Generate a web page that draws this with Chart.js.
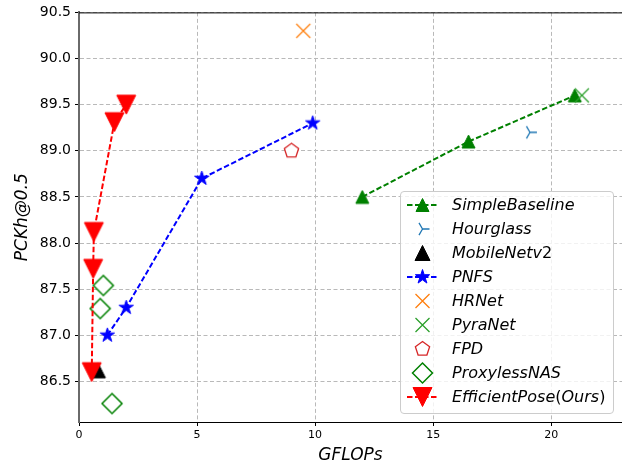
<!DOCTYPE html>
<html>
<head>
<meta charset="utf-8">
<script src="https://cdn.jsdelivr.net/npm/chart.js@4.4.1/dist/chart.umd.min.js"></script>
<style>
html,body{margin:0;padding:0;background:#fff;}
#wrap{position:relative;width:622px;height:464px;overflow:hidden;}
#legend{position:absolute;left:400px;top:191px;width:214px;height:223px;box-sizing:border-box;border:1px solid #cccccc;border-radius:4px;background:rgba(255,255,255,0.8);font-family:"DejaVu Sans",sans-serif;font-size:16px;color:#000;}
.row{position:absolute;left:0;height:24px;width:210px;}
.row canvas{position:absolute;left:3px;top:0;}
.row .lbl{position:absolute;left:51px;top:0;line-height:24px;font-style:italic;white-space:nowrap;}
.row .lbl span{font-style:normal;}
</style>
</head>
<body>
<div id="wrap">
<canvas id="c" width="622" height="464"></canvas>
<div id="legend"></div>
</div>
<script>
// ---- data ----
const xTicks = [0, 5, 10, 15, 20];
const yTicks = [86.5, 87.0, 87.5, 88.0, 88.5, 89.0, 89.5, 90.0, 90.5];

const seriesNames = ["SimpleBaseline", "Hourglass", "MobileNetv2", "PNFS", "HRNet", "PyraNet", "FPD", "ProxylessNAS", "EfficientPose(Ours)"];

const simpleBaselineX = [12.0, 16.5, 21.0];
const simpleBaselineY = [88.5, 89.1, 89.6];
const hourglassX = [19.1];
const hourglassY = [89.2];
const mobileNetX = [0.8];
const mobileNetY = [86.62];
const pnfsX = [1.2, 2.0, 5.2, 9.9];
const pnfsY = [87.0, 87.3, 88.7, 89.3];
const hrnetX = [9.5];
const hrnetY = [90.3];
const pyraNetX = [21.3];
const pyraNetY = [89.6];
const fpdX = [9.0];
const fpdY = [89.0];
const proxylessX = [1.03, 0.9, 1.4];
const proxylessY = [87.54, 87.29, 86.26];
const efficientPoseX = [0.54, 0.6, 0.63, 1.5, 2.0];
const efficientPoseY = [86.6, 87.72, 88.12, 89.31, 89.5];

// ---- marker styles ----
const markers = [
  {shape:'tri_up', size:13, fill:'#008000', stroke:'#008000', lw:1, color:'#008000', line:true},
  {shape:'tri_right', size:14, fill:null, stroke:'#1f77b4', lw:1.3, color:'#1f77b4', line:false},
  {shape:'tri_up', size:15, fill:'#000000', stroke:'#000000', lw:1, color:'#000000', line:false},
  {shape:'star', size:15, fill:'#0000ff', stroke:'#0000ff', lw:1, color:'#0000ff', line:true},
  {shape:'x', size:14, fill:null, stroke:'#ff7f0e', lw:1.3, color:'#ff7f0e', line:false},
  {shape:'x', size:14, fill:null, stroke:'#2ca02c', lw:1.3, color:'#2ca02c', line:false},
  {shape:'pentagon', size:15, fill:'#ffffff', stroke:'#d62728', lw:1.3, color:'#d62728', line:false},
  {shape:'diamond', size:20, fill:'#ffffff', stroke:'#008000', lw:1.5, color:'#008000', line:false},
  {shape:'tri_down', size:19, fill:'#ff0000', stroke:'#ff0000', lw:1, color:'#ff0000', line:true}
];
const DASH = [5.5, 2.5];

function drawMarker(ctx, m, x, y) {
  const s = m.size / 2;
  ctx.save();
  ctx.lineJoin = 'miter';
  ctx.setLineDash([]);
  ctx.beginPath();
  switch (m.shape) {
    case 'tri_up':
      ctx.moveTo(x, y - s); ctx.lineTo(x + s, y + s); ctx.lineTo(x - s, y + s); ctx.closePath(); break;
    case 'tri_down':
      ctx.moveTo(x, y + s); ctx.lineTo(x + s, y - s); ctx.lineTo(x - s, y - s); ctx.closePath(); break;
    case 'star':
      for (let i = 0; i < 10; i++) {
        const r = (i % 2 === 0) ? s : s * 0.381966;
        const a = -Math.PI / 2 + i * Math.PI / 5;
        const px = x + r * Math.cos(a), py = y + r * Math.sin(a);
        if (i === 0) ctx.moveTo(px, py); else ctx.lineTo(px, py);
      }
      ctx.closePath(); break;
    case 'pentagon':
      for (let i = 0; i < 5; i++) {
        const a = -Math.PI / 2 + i * 2 * Math.PI / 5;
        const px = x + s * Math.cos(a), py = y + s * Math.sin(a);
        if (i === 0) ctx.moveTo(px, py); else ctx.lineTo(px, py);
      }
      ctx.closePath(); break;
    case 'diamond':
      ctx.moveTo(x, y - s); ctx.lineTo(x + s, y); ctx.lineTo(x, y + s); ctx.lineTo(x - s, y); ctx.closePath(); break;
    case 'x':
      ctx.moveTo(x - s, y - s); ctx.lineTo(x + s, y + s);
      ctx.moveTo(x - s, y + s); ctx.lineTo(x + s, y - s); break;
    case 'tri_right':
      ctx.moveTo(x, y); ctx.lineTo(x + s, y);
      ctx.moveTo(x, y); ctx.lineTo(x - s * 0.5, y - s * 0.866);
      ctx.moveTo(x, y); ctx.lineTo(x - s * 0.5, y + s * 0.866); break;
  }
  if (m.fill) { ctx.fillStyle = m.fill; ctx.fill(); }
  if (m.stroke) { ctx.strokeStyle = m.stroke; ctx.lineWidth = m.lw; ctx.stroke(); }
  ctx.restore();
}

function markerCanvas(m) {
  const d = Math.ceil(m.size + 6);
  const cv = document.createElement('canvas');
  cv.width = d; cv.height = d;
  drawMarker(cv.getContext('2d'), m, d / 2, d / 2);
  return cv;
}

function pts(xs, ys) { return xs.map((x, i) => ({x: x, y: ys[i]})); }

const xsList = [simpleBaselineX, hourglassX, mobileNetX, pnfsX, hrnetX, pyraNetX, fpdX, proxylessX, efficientPoseX];
const ysList = [simpleBaselineY, hourglassY, mobileNetY, pnfsY, hrnetY, pyraNetY, fpdY, proxylessY, efficientPoseY];

const datasets = seriesNames.map((name, i) => {
  const m = markers[i];
  return {
    label: name,
    data: pts(xsList[i], ysList[i]),
    showLine: m.line,
    borderColor: m.color,
    borderWidth: 2,
    borderDash: DASH,
    backgroundColor: m.color,
    pointStyle: markerCanvas(m),
    pointRadius: 6,
    pointHoverRadius: 6,
    tension: 0,
    fill: false,
    order: seriesNames.length - i
  };
});

const tickFont = (size) => ({family: 'DejaVu Sans', size: size});
const gridColor = '#b9b9b9';

const frame = {
  id: 'frame',
  beforeDatasetsDraw(chart) {
    const {ctx, chartArea: a} = chart;
    ctx.save();
    ctx.strokeStyle = '#000';
    ctx.lineWidth = 1;
    ctx.beginPath();
    ctx.moveTo(a.left, a.top + 0.5);
    ctx.lineTo(a.right, a.top + 0.5);
    ctx.stroke();
    ctx.restore();
  }
};

new Chart(document.getElementById('c'), {
  type: 'scatter',
  data: {datasets: datasets},
  options: {
    responsive: false,
    animation: false,
    events: [],
    layout: {autoPadding: false, padding: {top: 12, right: 0, bottom: 0, left: 0}},
    plugins: {legend: {display: false}, tooltip: {enabled: false}},
    scales: {
      x: {
        type: 'linear', min: 0, max: 23,
        afterBuildTicks: (s) => { s.ticks = xTicks.map(v => ({value: v})); },
        afterFit: (s) => { s.height = 42; },
        ticks: {font: tickFont(11), color: '#000', padding: 3, maxRotation: 0, callback: (v) => String(v)},
        grid: {color: gridColor, lineWidth: 1, tickColor: '#000', tickLength: 4, tickWidth: 1},
        border: {color: '#000', width: 1, dash: [4, 2.5]},
        title: {display: true, text: 'GFLOPs', color: '#000', font: {family: 'DejaVu Sans', size: 17, style: 'italic'}, padding: {top: 0, bottom: -2}}
      },
      y: {
        type: 'linear', min: 86.06, max: 90.5,
        afterBuildTicks: (s) => { s.ticks = yTicks.map(v => ({value: v})); },
        afterFit: (s) => { s.width = 79; },
        ticks: {font: tickFont(14), color: '#000', padding: 4, callback: (v) => Number(v).toFixed(1)},
        grid: {color: gridColor, lineWidth: 1, tickColor: '#000', tickLength: 4, tickWidth: 1},
        border: {color: '#6a6a6a', width: 2, dash: [4, 2.5]},
        title: {display: true, text: 'PCKh@0.5', color: '#000', font: {family: 'DejaVu Sans', size: 17, style: 'italic'}, padding: {top: 12, bottom: 0}}
      }
    }
  },
  plugins: [frame]
});

// ---- HTML legend built from the datasets ----
const legendEl = document.getElementById('legend');
seriesNames.forEach((name, i) => {
  const m = markers[i];
  const row = document.createElement('div');
  row.className = 'row';
  row.style.top = (1 + 24 * i) + 'px';
  const cv = document.createElement('canvas');
  cv.width = 40; cv.height = 24;
  const ctx = cv.getContext('2d');
  if (m.line) {
    ctx.save();
    ctx.strokeStyle = m.color; ctx.lineWidth = 2; ctx.setLineDash(DASH);
    ctx.beginPath(); ctx.moveTo(3, 12); ctx.lineTo(34, 12); ctx.stroke();
    ctx.restore();
  }
  drawMarker(ctx, m, 18.5, 12);
  row.appendChild(cv);
  const lbl = document.createElement('div');
  lbl.className = 'lbl';
  lbl.innerHTML = name.replace(/([0-9()]+)/g, '<span>$1</span>');
  row.appendChild(lbl);
  legendEl.appendChild(row);
});
</script>
</body>
</html>
